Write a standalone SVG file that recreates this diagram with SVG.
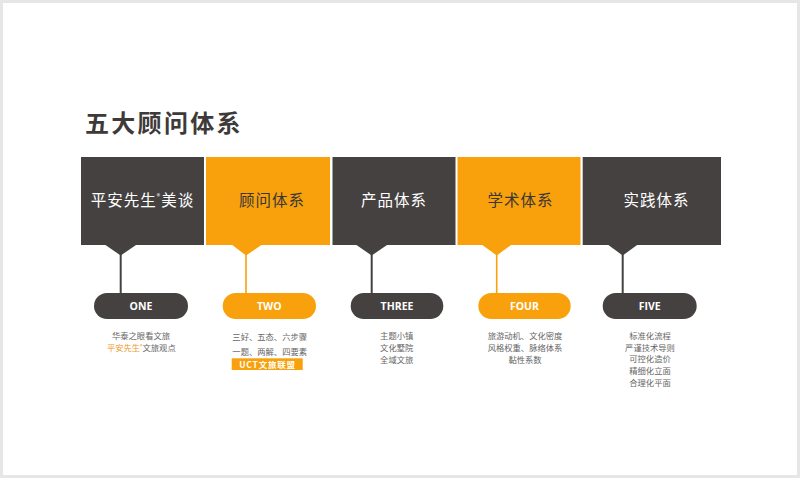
<svg xmlns="http://www.w3.org/2000/svg" width="800" height="478" viewBox="0 0 800 478">
<style>
  .cjk{font-family:"Noto Sans CJK SC","Noto Sans",sans-serif}
  .title{font-size:24px;font-weight:bold;fill:#3d3a39;letter-spacing:2.3px}
  .dark{fill:#454141}
  .orange{fill:#f8a10c}
  .boxtxt{font-size:15.5px;letter-spacing:1px;text-anchor:middle}
  .wt{fill:#ffffff}
  .dt{fill:#3a3636}
  .pill{font-family:"Open Sans","Noto Sans CJK SC",sans-serif;font-size:10.5px;font-weight:bold;fill:#ffffff;text-anchor:middle}
  .desc{font-size:8.3px;fill:#666666;text-anchor:middle}
  .lnd{stroke:#454141;stroke-width:2}
  .lno{stroke:#f8a10c;stroke-width:1.6}
</style>
<rect x="0" y="0" width="800" height="478" fill="#ffffff"/>
<rect x="1.5" y="1.5" width="797" height="475" fill="none" stroke="#e6e6e6" stroke-width="3"/>
<text class="cjk title" x="85" y="132">五大顾问体系</text>

<g id="connectors">
  <line class="lnd" x1="120.7" y1="254" x2="120.7" y2="294"/>
  <line class="lno" x1="246" y1="254" x2="246" y2="294"/>
  <line class="lnd" x1="371.7" y1="254" x2="371.7" y2="294"/>
  <line class="lno" x1="496.7" y1="254" x2="496.7" y2="294"/>
  <line class="lnd" x1="622.7" y1="254" x2="622.7" y2="294"/>
</g>

<g id="node1">
  <rect class="dark" x="81" y="157" width="123" height="88"/>
  <polygon class="dark" points="104,244 137.5,244 120.7,255.5"/>
  <text class="cjk boxtxt wt" x="142.5" y="206">平安先生<tspan font-size="7" dy="-7">®</tspan><tspan dy="7">美谈</tspan></text>
  <rect class="dark" x="94" y="293" width="94" height="26" rx="13"/>
  <text class="pill" x="141" y="309.7">ONE</text>
  <text class="cjk desc" x="141" y="338.5">华泰之眼看文旅</text>
  <text class="cjk desc" x="141.3" y="350.5"><tspan fill="#f0982a">平安先生<tspan font-size="5" dy="-3">®</tspan></tspan><tspan dy="3">文旅观点</tspan></text>
</g>

<g id="node2">
  <rect class="orange" x="206" y="157" width="124" height="88"/>
  <polygon class="orange" points="231,244 263,244 246,255.5"/>
  <text class="cjk boxtxt dt" x="272" y="206">顾问体系</text>
  <rect class="orange" x="222.7" y="293" width="93.3" height="26" rx="13"/>
  <text class="pill" x="269.3" y="309.7">TWO</text>
  <text class="cjk desc" x="269.7" y="339.5">三好、五态、六步骤</text>
  <text class="cjk desc" x="269.7" y="354.5">一题、两解、四要素</text>
  <rect class="orange" x="231.7" y="358.3" width="71" height="11.7"/>
  <text class="cjk" x="267.5" y="367.6" font-size="8.5" font-weight="bold" fill="#ffffff" text-anchor="middle" letter-spacing="0.8">UCT文旅联盟</text>
</g>

<g id="node3">
  <rect class="dark" x="332.5" y="157" width="123" height="88"/>
  <polygon class="dark" points="355,244 388.5,244 371.7,255.5"/>
  <text class="cjk boxtxt wt" x="394" y="206">产品体系</text>
  <rect class="dark" x="350.7" y="293" width="92.6" height="26" rx="13"/>
  <text class="pill" x="397" y="309.7">THREE</text>
  <text class="cjk desc" x="396.7" y="338.5">主题小镇</text>
  <text class="cjk desc" x="396.7" y="350.5">文化墅院</text>
  <text class="cjk desc" x="396.7" y="362.5">全域文旅</text>
</g>

<g id="node4">
  <rect class="orange" x="457.5" y="157" width="123" height="88"/>
  <polygon class="orange" points="481,244 512.5,244 496.7,255.5"/>
  <text class="cjk boxtxt dt" x="520.5" y="206">学术体系</text>
  <rect class="orange" x="478.3" y="293" width="92.4" height="26" rx="13"/>
  <text class="pill" x="524.5" y="309.7">FOUR</text>
  <text class="cjk desc" x="525" y="338.5">旅游动机、文化密度</text>
  <text class="cjk desc" x="525" y="350.5">风格权重、脉络体系</text>
  <text class="cjk desc" x="525" y="362.5">黏性系数</text>
</g>

<g id="node5">
  <rect class="dark" x="582.7" y="157" width="138.3" height="88"/>
  <polygon class="dark" points="607,244 638.5,244 622.7,255.5"/>
  <text class="cjk boxtxt wt" x="656.5" y="206">实践体系</text>
  <rect class="dark" x="602.7" y="293" width="94" height="26" rx="13"/>
  <text class="pill" x="649.7" y="309.7">FIVE</text>
  <text class="cjk desc" x="650" y="338.5">标准化流程</text>
  <text class="cjk desc" x="650" y="350.5">严谨技术导则</text>
  <text class="cjk desc" x="650" y="362">可控化造价</text>
  <text class="cjk desc" x="650" y="373.5">精细化立面</text>
  <text class="cjk desc" x="650" y="385.5">合理化平面</text>
</g>
</svg>
